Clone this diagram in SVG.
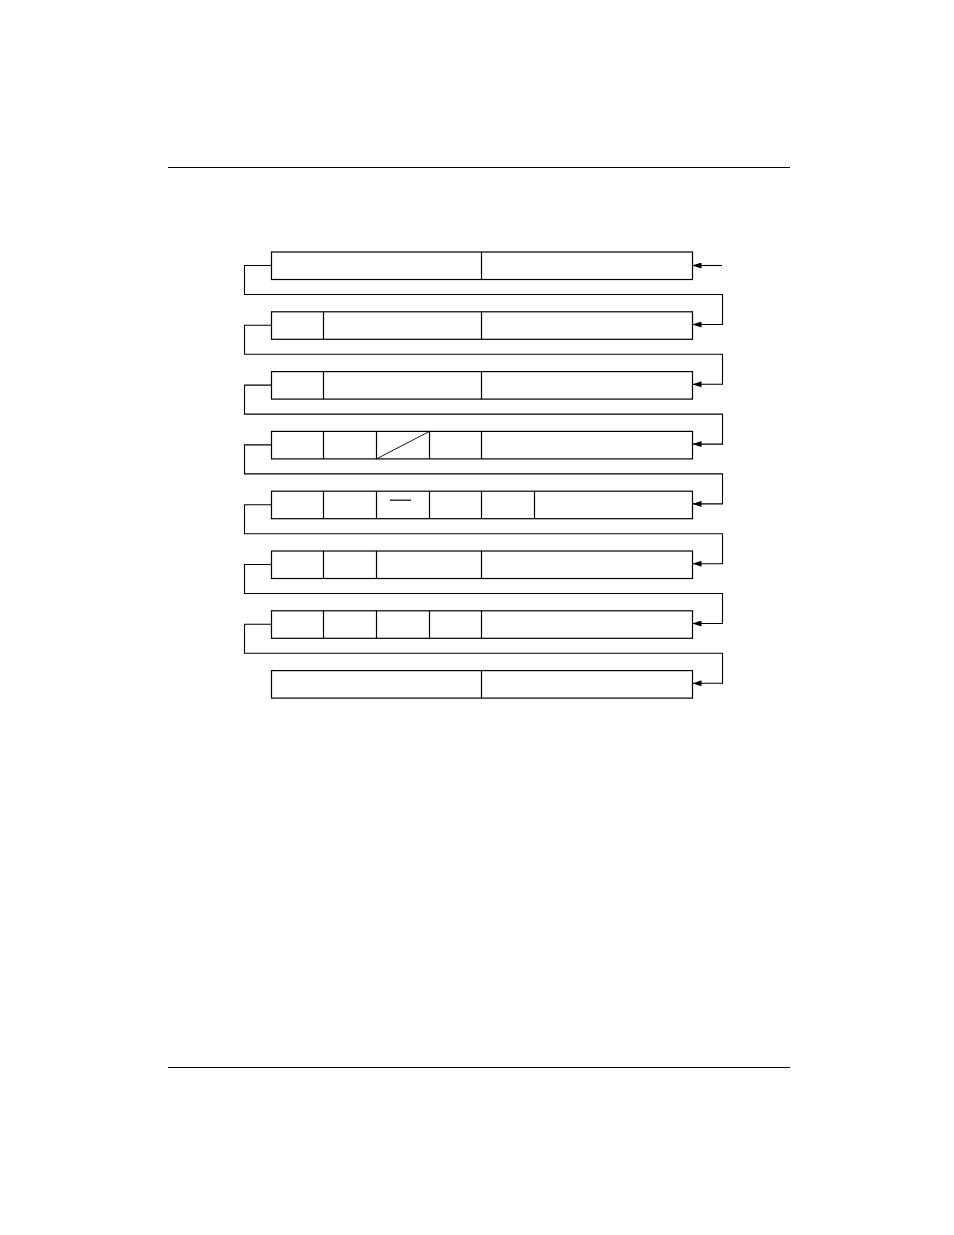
<svg xmlns="http://www.w3.org/2000/svg" width="954" height="1235" viewBox="0 0 954 1235">
<style>
.b{fill:none;stroke:#000;stroke-width:1.2}
.d{stroke:#000;stroke-width:1.2}
.c{fill:none;stroke:#000;stroke-width:1.1}
.r{stroke:#000;stroke-width:1}
</style>
<defs>
<marker id="a" markerWidth="9" markerHeight="6" refX="9" refY="3" orient="auto" markerUnits="userSpaceOnUse">
<path d="M0,0 L9,3 L0,6 Z" fill="#000"/>
</marker>
</defs>
<rect width="954" height="1235" fill="#fff"/>
<line class="r" x1="168" y1="167.5" x2="790" y2="167.5"/>
<line class="r" x1="168" y1="1067.5" x2="790" y2="1067.5"/>
<g id="row1"><rect class="b" x="271.5" y="252" width="421" height="27.5"/><line class="d" x1="481.5" y1="252" x2="481.5" y2="279.5"/></g>
<g id="row2"><rect class="b" x="271.5" y="311.8" width="421" height="27.5"/><line class="d" x1="323.5" y1="311.8" x2="323.5" y2="339.3"/><line class="d" x1="481.5" y1="311.8" x2="481.5" y2="339.3"/></g>
<g id="row3"><rect class="b" x="271.5" y="371.6" width="421" height="27.5"/><line class="d" x1="323.5" y1="371.6" x2="323.5" y2="399.1"/><line class="d" x1="481.5" y1="371.6" x2="481.5" y2="399.1"/></g>
<g id="row4"><rect class="b" x="271.5" y="431.4" width="421" height="27.5"/><line class="d" x1="323.5" y1="431.4" x2="323.5" y2="458.9"/><line class="d" x1="376.5" y1="431.4" x2="376.5" y2="458.9"/><line class="d" x1="429.5" y1="431.4" x2="429.5" y2="458.9"/><line class="d" x1="481.5" y1="431.4" x2="481.5" y2="458.9"/><line class="d" x1="376.5" y1="458.9" x2="429.5" y2="431.4" style="stroke-width:0.9"/></g>
<g id="row5"><rect class="b" x="271.5" y="491.2" width="421" height="27.5"/><line class="d" x1="323.5" y1="491.2" x2="323.5" y2="518.7"/><line class="d" x1="376.5" y1="491.2" x2="376.5" y2="518.7"/><line class="d" x1="429.5" y1="491.2" x2="429.5" y2="518.7"/><line class="d" x1="481.5" y1="491.2" x2="481.5" y2="518.7"/><line class="d" x1="534.5" y1="491.2" x2="534.5" y2="518.7"/><line class="d" x1="390" y1="500.2" x2="411" y2="500.2"/></g>
<g id="row6"><rect class="b" x="271.5" y="551" width="421" height="27.5"/><line class="d" x1="323.5" y1="551" x2="323.5" y2="578.5"/><line class="d" x1="376.5" y1="551" x2="376.5" y2="578.5"/><line class="d" x1="481.5" y1="551" x2="481.5" y2="578.5"/></g>
<g id="row7"><rect class="b" x="271.5" y="610.8" width="421" height="27.5"/><line class="d" x1="323.5" y1="610.8" x2="323.5" y2="638.3"/><line class="d" x1="376.5" y1="610.8" x2="376.5" y2="638.3"/><line class="d" x1="429.5" y1="610.8" x2="429.5" y2="638.3"/><line class="d" x1="481.5" y1="610.8" x2="481.5" y2="638.3"/></g>
<g id="row8"><rect class="b" x="271.5" y="670.6" width="421" height="27.5"/><line class="d" x1="481.5" y1="670.6" x2="481.5" y2="698.1"/></g>
<g id="connectors">
<line class="c" x1="722" y1="265.5" x2="692.5" y2="265.5" marker-end="url(#a)"/>
<polyline class="c" points="271.5,265.5 244.5,265.5 244.5,294.5 722.5,294.5 722.5,324.5 692.5,324.5" marker-end="url(#a)"/>
<polyline class="c" points="271.5,325.3 244.5,325.3 244.5,354.3 722.5,354.3 722.5,384.3 692.5,384.3" marker-end="url(#a)"/>
<polyline class="c" points="271.5,385.1 244.5,385.1 244.5,414.1 722.5,414.1 722.5,444.1 692.5,444.1" marker-end="url(#a)"/>
<polyline class="c" points="271.5,444.9 244.5,444.9 244.5,473.9 722.5,473.9 722.5,503.9 692.5,503.9" marker-end="url(#a)"/>
<polyline class="c" points="271.5,504.7 244.5,504.7 244.5,533.7 722.5,533.7 722.5,563.7 692.5,563.7" marker-end="url(#a)"/>
<polyline class="c" points="271.5,564.5 244.5,564.5 244.5,593.5 722.5,593.5 722.5,623.5 692.5,623.5" marker-end="url(#a)"/>
<polyline class="c" points="271.5,624.3 244.5,624.3 244.5,653.3 722.5,653.3 722.5,683.3 692.5,683.3" marker-end="url(#a)"/>
</g>
</svg>
